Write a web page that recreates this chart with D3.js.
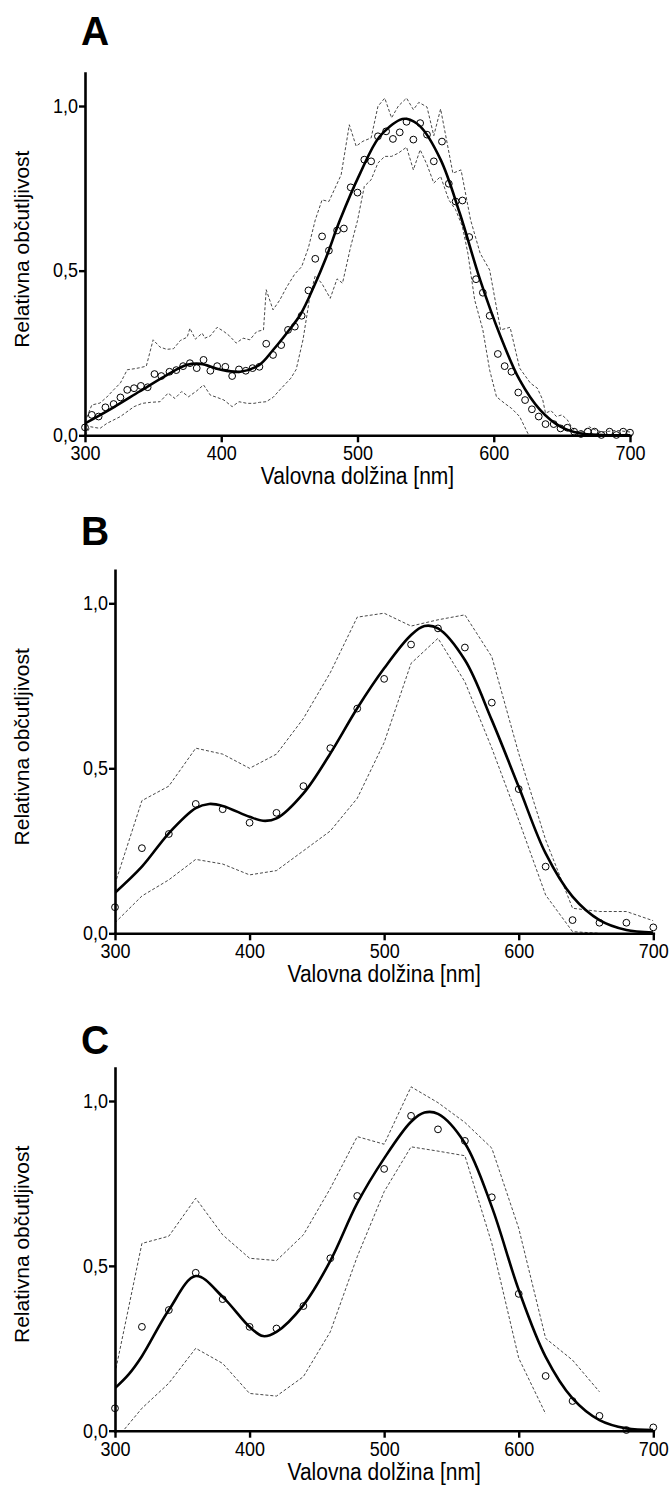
<!DOCTYPE html>
<html>
<head>
<meta charset="utf-8">
<script src="https://cdn.jsdelivr.net/npm/d3@7"></script>
<style>
    body { margin: 0; background: #fff; }
    svg text { font-family: "Liberation Sans", Arial, Helvetica, sans-serif; fill: #000; }
</style>
</head>
<body>
<div class="graph"></div>
<script>
// Tick labels and titles
const xTicks = [300, 400, 500, 600, 700];
const yTicks = [0, 0.5, 1.0];
const xTitle = "Valovna dolžina [nm]";
const yTitle = "Relativna občutljivost";

// Panel A: measured points (circles)
const aWave = [300,305,310,315,321,326,331,336,341,346,351,356,362,367,372,377,382,387,392,397,
    403,408,413,418,423,428,433,438,444,449,454,459,464,469,474,479,485,490,495,500,
    505,510,515,521,526,531,536,541,546,551,556,562,567,572,577,582,587,592,597,603,
    608,613,618,623,628,633,638,644,649,654,659,664,669,674,679,685,690,695,700];
const aMean = [0.024,0.062,0.057,0.085,0.095,0.115,0.138,0.143,0.150,0.146,0.186,0.180,0.193,0.198,0.210,0.219,0.204,0.229,0.196,0.210,
    0.208,0.180,0.200,0.196,0.204,0.208,0.278,0.244,0.274,0.320,0.330,0.363,0.440,0.536,0.604,0.561,0.622,0.628,0.753,0.737,
    0.837,0.832,0.908,0.923,0.900,0.920,0.952,0.898,0.948,0.913,0.832,0.892,0.764,0.710,0.713,0.602,0.474,0.433,0.363,0.247,
    0.210,0.193,0.130,0.107,0.079,0.057,0.034,0.034,0.021,0.023,0.011,0.004,0.011,0.011,0.001,0.011,0.001,0.011,0.008];

// Panel A: dashed bounds [nm, value]
const aUpper = [[300,0.04],[305,0.092],[311,0.098],[316,0.116],[321,0.138],[326,0.159],[331,0.199],[336,0.202],[340,0.205],[345,0.21],
    [350,0.29],[355,0.268],[360,0.261],[365,0.263],[370,0.288],[375,0.298],[377,0.325],[381,0.292],[386,0.31],[388,0.295],
    [392,0.302],[397,0.328],[402,0.315],[406,0.302],[411,0.28],[416,0.295],[421,0.29],[426,0.315],[431,0.32],[433,0.442],
    [438,0.381],[443,0.411],[448,0.45],[454,0.49],[459,0.512],[464,0.57],[469,0.654],[474,0.715],[479,0.71],[488,0.791],
    [494,0.943],[499,0.878],[504,0.893],[510,0.903],[515,0.999],[520,1.024],[525,0.964],[530,1.0],[536,1.024],[541,0.989],
    [545,1.011],[551,0.997],[556,0.91],[561,0.991],[570,0.796],[576,0.806],[583,0.654],[590,0.553],[597,0.502],[605,0.32],
    [612,0.328],[619,0.204],[627,0.158],[632,0.143],[636,0.107],[638,0.067],[642,0.075],[646,0.057],[650,0.062],[654,0.047],
    [657,0.026],[660,0.011],[665,0.01],[670,0.026],[675,0.015],[680,0.01],[690,0.015],[700,0.01]];
const aLower = [[300,0.0],[304,0.026],[311,0.021],[316,0.036],[326,0.057],[336,0.087],[342,0.097],[348,0.1],[355,0.102],[361,0.128],
    [366,0.112],[371,0.133],[376,0.117],[382,0.135],[387,0.153],[392,0.122],[397,0.115],[402,0.107],[408,0.087],[413,0.102],
    [419,0.097],[424,0.097],[428,0.1],[433,0.102],[438,0.115],[443,0.138],[451,0.173],[455,0.2],[460,0.29],[465,0.42],
    [469,0.485],[474,0.46],[480,0.416],[485,0.475],[489,0.462],[495,0.573],[500,0.652],[505,0.756],[510,0.776],[515,0.827],
    [520,0.847],[525,0.847],[530,0.857],[536,0.875],[541,0.806],[546,0.867],[551,0.822],[556,0.766],[561,0.786],[567,0.715],
    [572,0.685],[577,0.634],[581,0.553],[586,0.411],[592,0.32],[597,0.198],[602,0.117],[608,0.097],[613,0.082],[619,0.057],
    [625,0.006],[630,-0.02]];

// Panel A: fitted curve [nm, value]
const aFit = [[300,0.036],[321,0.085],[340,0.133],[360,0.183],[375,0.214],[385,0.217],[399,0.2],[414,0.193],[428,0.214],[438,0.259],
    [448,0.31],[458,0.366],[468,0.452],[477,0.54],[487,0.652],[502,0.796],[516,0.906],[531,0.958],[536,0.961],[546,0.938],
    [561,0.837],[575,0.675],[590,0.472],[605,0.3],[619,0.168],[634,0.077],[649,0.026],[663,0.006],[680,0.001],[700,0]];

// Panels B and C share a 20 nm grid
const bcWave = [300,320,340,360,380,400,420,440,460,480,500,520,540,560,580,600,620,640,660,680,700];

const bMean  = [0.079,0.258,0.301,0.392,0.376,0.335,0.365,0.446,0.561,0.681,0.771,0.875,0.924,0.866,0.699,0.437,0.202,0.04,0.032,0.032,0.018];
const bUpper = [0.15,0.402,0.446,0.561,0.543,0.5,0.543,0.651,0.79,0.958,0.97,0.931,0.95,0.965,0.838,0.545,0.283,0.076,0.066,0.066,0.038];
const bLower = [0.032,0.113,0.162,0.224,0.21,0.177,0.19,0.25,0.31,0.409,0.578,0.818,0.894,0.762,0.561,0.343,0.116,0.005,0.0];
const bFit = [[300,0.123],[320,0.202],[340,0.303],[360,0.379],[370,0.392],[380,0.386],[400,0.353],[410,0.341],[420,0.348],[440,0.424],
    [460,0.545],[480,0.682],[500,0.803],[520,0.904],[530,0.931],[540,0.924],[560,0.828],[580,0.646],[600,0.444],[620,0.242],
    [640,0.111],[660,0.04],[680,0.01],[700,0.002]];

const cMean  = [0.068,0.315,0.366,0.479,0.399,0.315,0.31,0.378,0.523,0.712,0.794,0.955,0.914,0.879,0.708,0.415,0.166,0.09,0.045,0.002,0.01];
const cUpper = [0.174,0.568,0.59,0.705,0.594,0.523,0.516,0.594,0.735,0.892,0.869,1.043,0.995,0.935,0.857,0.614,0.28,0.214,0.118];
const cLower = [-0.03,0.068,0.144,0.25,0.204,0.113,0.105,0.164,0.3,0.528,0.725,0.861,0.848,0.834,0.568,0.22,0.051];
const cFit = [[300,0.129],[310,0.17],[320,0.226],[340,0.366],[360,0.469],[380,0.406],[400,0.315],[410,0.287],[420,0.3],[440,0.381],[460,0.515],
    [480,0.69],[500,0.826],[520,0.937],[530,0.965],[540,0.961],[560,0.872],[580,0.679],[600,0.427],[620,0.224],[640,0.098],
    [660,0.032],[680,0.007],[700,0.002]];

// Turns a wavelength list plus a value list into pairs
function pairs(wave, values) {
    return values.map((v, i) => [wave[i], v]);
}

const panels = [
    {letter: "A", letterY: 45, left: 85, right: 630, zero: 435.3, unit: 329.3,
        points: pairs(aWave, aMean), upper: aUpper, lower: aLower, fit: aFit},
    {letter: "B", letterY: 545, left: 115, right: 653.3, zero: 933.3, unit: 330,
        points: pairs(bcWave, bMean), upper: pairs(bcWave, bUpper), lower: pairs(bcWave, bLower), fit: bFit},
    {letter: "C", letterY: 1054, left: 115, right: 653.3, zero: 1430.7, unit: 329.7,
        points: pairs(bcWave, cMean), upper: pairs(bcWave, cUpper), lower: pairs(bcWave, cLower), fit: cFit}
];

const wrapper = d3.select(".graph")
    .append("svg")
        .attr("width", 671)
        .attr("height", 1486)
        .style("display", "block");

const yFormat = d => d3.format(".1f")(d).replace(".", ",");

panels.forEach((p, idx) => {
    const xScale = d3.scaleLinear()
        .domain([300, 700])
        .range([p.left, p.right]);
    const yScale = d3.scaleLinear()
        .domain([0, 1.1])
        .range([p.zero, p.zero - 1.1 * p.unit]);

    // clip the lines to the plotting area
    const clipId = "clip" + idx;
    wrapper.append("clipPath")
        .attr("id", clipId)
      .append("rect")
        .attr("x", xScale(300))
        .attr("y", yScale(1.1))
        .attr("width", xScale(700) - xScale(300))
        .attr("height", yScale(0) - yScale(1.1));

    const g = wrapper.append("g");
    const lines = g.append("g").attr("clip-path", `url(#${clipId})`);

    const dashed = d3.line()
        .x(d => xScale(d[0]))
        .y(d => yScale(d[1]));

    [p.upper, p.lower].forEach(band => {
        lines.append("path")
            .attr("d", dashed(band))
            .attr("fill", "none")
            .attr("stroke", "#333")
            .attr("stroke-width", 0.9)
            .attr("stroke-dasharray", "3,2");
    });

    const smooth = d3.line()
        .x(d => xScale(d[0]))
        .y(d => yScale(d[1]))
        .curve(d3.curveCatmullRom.alpha(0.5));

    lines.append("path")
        .attr("d", smooth(p.fit))
        .attr("fill", "none")
        .attr("stroke", "#000")
        .attr("stroke-width", 2.6);

    g.append("g")
        .selectAll("circle")
        .data(p.points)
        .join("circle")
            .attr("cx", d => xScale(d[0]))
            .attr("cy", d => yScale(d[1]))
            .attr("r", 3.4)
            .attr("fill", "none")
            .attr("stroke", "#000")
            .attr("stroke-width", 1);

    // axes
    const xAxis = g.append("g")
        .attr("transform", `translate(0,${p.zero})`)
        .call(d3.axisBottom(xScale)
            .tickValues(xTicks)
            .tickSizeInner(7)
            .tickSizeOuter(0)
            .tickPadding(3));

    const yAxis = g.append("g")
        .attr("transform", `translate(${p.left},0)`)
        .call(d3.axisLeft(yScale)
            .tickValues(yTicks)
            .tickFormat(yFormat)
            .tickSizeInner(6)
            .tickSizeOuter(0)
            .tickPadding(1));

    [xAxis, yAxis].forEach(ax => {
        ax.select(".domain").attr("stroke-width", 2.6).attr("stroke-linecap", "square");
        ax.selectAll(".tick line").attr("stroke-width", 2.4);
        ax.selectAll(".tick text")
            .style("font-size", "18px")
            .attr("fill", "#000")
            // the source lettering is slightly taller than it is wide
            .attr("transform", "scale(1,1.1)");
    });

    // titles
    g.append("text")
        .attr("transform", `translate(${(p.left + p.right) / 2},${p.zero + 49}) scale(1,1.1)`)
        .attr("text-anchor", "middle")
        .style("font-size", "21px")
        .text(xTitle);

    g.append("text")
        .attr("transform", `translate(29,${(yScale(0) + yScale(1.1)) / 2 - 5}) rotate(-90)`)
        .attr("text-anchor", "middle")
        .style("font-size", "21px")
        .text(yTitle);

    g.append("text")
        .attr("transform", `translate(81,${p.letterY}) scale(1,1.05)`)
        .style("font-size", "39px")
        .style("font-weight", "bold")
        .text(p.letter);
});
</script>
</body>
</html>
